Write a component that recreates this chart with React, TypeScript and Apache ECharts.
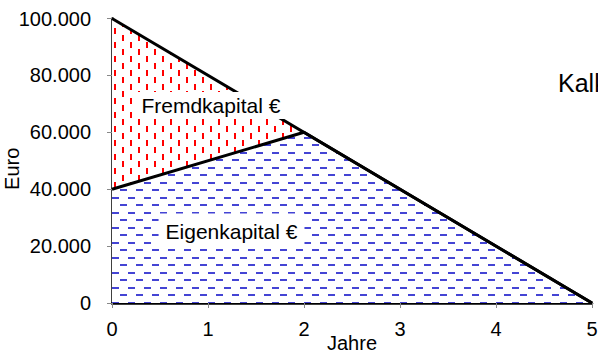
import React, { useEffect, useRef } from 'react';
import * as echarts from 'echarts';

// Axis ticks
const xTicks = [0, 1, 2, 3, 4, 5];
const yTicks = [0, 20000, 40000, 60000, 80000, 100000];

// Total capital (top line)
const gesamtX = [0, 5];
const gesamtY = [100000, 0];
// Upper boundary of the Fremdkapital area
const fremdX = [0, 2];
const fremdY = [100000, 60000];
// Eigenkapital boundary
const eigenX = [0, 2, 5];
const eigenY = [40000, 60000, 0];

// Area labels (anchor in data coordinates)
const labelNames = ['Fremdkapital €', 'Eigenkapital €'];
const labelX = [1.03, 1.245];
const labelY = [69400, 25300];

const sideText = 'Kalkulatorische Zinsen';

function fmt(v: number): string {
  return String(v).replace(/\B(?=(\d{3})+(?!\d))/g, '.');
}

function makeTile(w: number, h: number, draw: (ctx: CanvasRenderingContext2D) => void) {
  const c = document.createElement('canvas');
  c.width = w;
  c.height = h;
  const ctx = c.getContext('2d')!;
  ctx.fillStyle = '#ffffff';
  ctx.fillRect(0, 0, w, h);
  draw(ctx);
  return { image: c, repeat: 'repeat', imageWidth: w, imageHeight: h } as any;
}

export default function App() {
  const ref = useRef<HTMLDivElement>(null);

  useEffect(() => {
    if (!ref.current) return;
    const chart = echarts.init(ref.current, undefined, { renderer: 'svg' });

    const redPattern = makeTile(16, 14, (ctx) => {
      ctx.fillStyle = '#ff0000';
      ctx.fillRect(2, 0, 2, 6);
      ctx.fillRect(10, 7, 2, 6);
    });
    const bluePattern = makeTile(16, 15, (ctx) => {
      ctx.fillStyle = '#4444d4';
      ctx.fillRect(0, 2, 7, 2);
      ctx.fillRect(8, 9, 7, 2);
    });

    const font = 'Liberation Sans, Arial, sans-serif';

    const option: any = {
      animation: false,
      backgroundColor: '#ffffff',
      grid: { left: 112, right: 6, top: 18.5, bottom: 50, outerBoundsMode: 'none' },
      xAxis: {
        type: 'value',
        min: xTicks[0],
        max: xTicks[xTicks.length - 1],
        interval: 1,
        name: 'Jahre',
        nameLocation: 'middle',
        nameGap: 30,
        nameMoveOverlap: false,
        nameTextStyle: { fontSize: 20, fontFamily: font, color: '#000' },
        axisLine: { show: true, onZero: false, lineStyle: { color: '#000', width: 2.5 } },
        axisTick: { show: true, length: 5, lineStyle: { color: '#888', width: 1 } },
        axisLabel: { fontSize: 20, fontFamily: font, color: '#000', margin: 16 },
        splitLine: { show: false },
      },
      yAxis: {
        type: 'value',
        min: yTicks[0],
        max: yTicks[yTicks.length - 1],
        interval: 20000,
        name: 'Euro',
        nameLocation: 'middle',
        nameGap: 90,
        nameMoveOverlap: false,
        nameTextStyle: { fontSize: 20, fontFamily: font, color: '#000', padding: [0, 16, 0, 0] },
        axisLine: { show: true, onZero: false, lineStyle: { color: '#000', width: 2.5 } },
        axisTick: { show: true, length: 5, lineStyle: { color: '#888', width: 1 } },
        axisLabel: { fontSize: 20, fontFamily: font, color: '#000', margin: 21, formatter: (v: number) => fmt(v) },
        splitLine: { show: false },
      },
      series: [
        {
          name: 'Fremdkapital',
          type: 'line',
          symbol: 'none',
          data: fremdX.map((x, i) => [x, fremdY[i]]),
          lineStyle: { width: 0, opacity: 0 },
          areaStyle: { color: redPattern, opacity: 1 },
        },
        {
          name: 'Eigenkapital',
          type: 'line',
          symbol: 'none',
          data: eigenX.map((x, i) => [x, eigenY[i]]),
          lineStyle: { color: '#000', width: 3 },
          areaStyle: { color: bluePattern, opacity: 1 },
        },
        {
          name: 'Gesamtkapital',
          type: 'line',
          symbol: 'none',
          data: gesamtX.map((x, i) => [x, gesamtY[i]]),
          lineStyle: { color: '#000', width: 3 },
          markPoint: {
            symbol: 'rect',
            symbolSize: 1,
            itemStyle: { color: 'rgba(0,0,0,0)' },
            label: {
              show: true,
              position: 'inside',
              backgroundColor: '#ffffff',
              color: '#000',
              fontSize: 21,
              fontFamily: font,
            },
            data: [
              {
                coord: [labelX[0], labelY[0]],
                label: { formatter: labelNames[0], padding: [3, 6] },
              },
              {
                coord: [labelX[1], labelY[1]],
                label: { formatter: labelNames[1], padding: [7, 7] },
              },
            ],
          },
        },
      ],
      graphic: [
        {
          type: 'text',
          left: 558,
          top: 70,
          style: { text: sideText, fontSize: 25, fontFamily: font, fill: '#000' },
        },
      ],
    };

    chart.setOption(option);
    return () => chart.dispose();
  }, []);

  return (
    <div
      ref={ref}
      style={{ position: 'absolute', left: 0, top: 0, width: 598, height: 353 }}
    />
  );
}
